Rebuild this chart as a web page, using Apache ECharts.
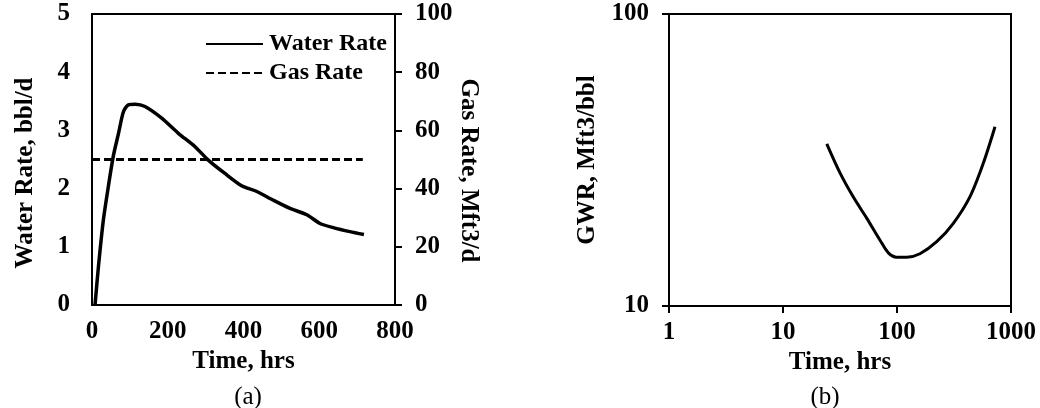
<!DOCTYPE html>
<html>
<head>
<meta charset="utf-8">
<script src="https://cdn.jsdelivr.net/npm/echarts@6/dist/echarts.min.js"></script>
<style>
  html, body { margin: 0; padding: 0; background: #fff; }
  #chart { width: 1040px; height: 408px; }
</style>
</head>
<body>
<div id="chart"></div>
<script>
// Panel (a): water rate (left axis) and gas rate (right axis) against time
const waterTime = [8, 17, 30, 43, 56, 70, 83, 96, 114, 140, 184, 228, 272, 307, 351, 395, 435, 479, 523, 567, 602, 637, 681, 718];
const waterRate = [0, 0.66, 1.46, 2.03, 2.55, 2.95, 3.32, 3.44, 3.45, 3.41, 3.21, 2.95, 2.72, 2.49, 2.26, 2.05, 1.95, 1.80, 1.66, 1.55, 1.40, 1.33, 1.26, 1.21];
const gasTime = [0, 715];
const gasRate = [50, 50];

// Panel (b): gas-water ratio against time, log-log
const gwrTime = [24.2, 31.7, 41.4, 54.2, 71, 84, 99, 122, 159, 223, 312, 437, 571, 724];
const gwrValue = [35.9, 28.5, 23.6, 20.0, 16.8, 15.2, 14.7, 14.7, 15.1, 16.6, 19.2, 23.7, 30.8, 41.1];

const FONT = '"Liberation Serif", "Times New Roman", serif';
const FS = 25;
const boldText = { fontFamily: FONT, fontSize: FS, fontWeight: 'bold', color: '#000' };
const axisLine = { show: true, lineStyle: { color: '#000', width: 2 } };
const outTick = { show: true, inside: false, length: 7, lineStyle: { color: '#000', width: 2 } };
const plain = (v) => String(v);

const pairs = (xs, ys) => xs.map((x, i) => [x, ys[i]]);

const chart = echarts.init(document.getElementById('chart'), null, { renderer: 'canvas' });

chart.setOption({
  animation: false,
  backgroundColor: '#fff',
  title: [
    { text: '(a)', left: 243, top: 380, textAlign: 'center',
      textStyle: { fontFamily: FONT, fontSize: FS, fontWeight: 'normal', color: '#000' } },
    { text: '(b)', left: 820, top: 380, textAlign: 'center',
      textStyle: { fontFamily: FONT, fontSize: FS, fontWeight: 'normal', color: '#000' } }
  ],
  legend: {
    orient: 'vertical',
    left: 205,
    top: 32,
    padding: 0,
    itemWidth: 57,
    itemHeight: 10,
    itemGap: 5,
    itemStyle: { opacity: 0 },
    textStyle: Object.assign({}, boldText, { fontSize: 24, padding: [0, 0, 0, 1] }),
    data: ['Water Rate', 'Gas Rate']
  },
  grid: [
    { left: 92, top: 14, width: 303, height: 291, show: true, borderColor: '#000', borderWidth: 2, backgroundColor: 'transparent' },
    { left: 669, top: 14, width: 342, height: 292, show: true, borderColor: '#000', borderWidth: 2, backgroundColor: 'transparent' }
  ],
  xAxis: [
    {
      gridIndex: 0, type: 'value', min: 0, max: 800, interval: 200,
      name: 'Time, hrs', nameLocation: 'middle', nameGap: 40, nameTextStyle: boldText,
      axisLine: axisLine, axisTick: { show: false },
      axisLabel: Object.assign({ margin: 14, formatter: plain }, boldText),
      splitLine: { show: false }
    },
    {
      gridIndex: 1, type: 'log', logBase: 10, min: 1, max: 1000, interval: 1,
      name: 'Time, hrs', nameLocation: 'middle', nameGap: 40, nameTextStyle: boldText,
      axisLine: axisLine, axisTick: outTick,
      axisLabel: Object.assign({ margin: 14, formatter: plain }, boldText),
      minorTick: { show: false },
      splitLine: { show: false }
    }
  ],
  yAxis: [
    {
      gridIndex: 0, type: 'value', min: 0, max: 5, interval: 1, position: 'left',
      name: 'Water Rate, bbl/d', nameLocation: 'middle', nameGap: 54,
      nameTextStyle: Object.assign({}, boldText, { padding: [0, 27, 0, 0] }),
      axisLine: axisLine, axisTick: { show: false },
      axisLabel: Object.assign({ margin: 22, formatter: plain }, boldText),
      splitLine: { show: false }
    },
    {
      gridIndex: 0, type: 'value', min: 0, max: 100, interval: 20, position: 'right',
      name: 'Gas Rate, Mft3/d', nameLocation: 'middle', nameGap: 60, nameRotate: -90,
      nameTextStyle: Object.assign({}, boldText, { padding: [0, 0, 0, 22] }),
      axisLine: axisLine, axisTick: outTick,
      axisLabel: Object.assign({ margin: 20, formatter: plain }, boldText),
      splitLine: { show: false }
    },
    {
      gridIndex: 1, type: 'log', logBase: 10, min: 10, max: 100, interval: 1, position: 'left',
      name: 'GWR, Mft3/bbl', nameLocation: 'middle', nameGap: 69, nameTextStyle: boldText,
      axisLine: axisLine, axisTick: outTick,
      axisLabel: Object.assign({ margin: 20, formatter: plain }, boldText),
      minorTick: { show: false },
      splitLine: { show: false }
    }
  ],
  series: [
    {
      name: 'Water Rate', type: 'line', xAxisIndex: 0, yAxisIndex: 0,
      data: pairs(waterTime, waterRate), smooth: 0.25, symbol: 'none',
      lineStyle: { color: '#000', width: 3.5, type: 'solid' },
      itemStyle: { color: '#000' }
    },
    {
      name: 'Gas Rate', type: 'line', xAxisIndex: 0, yAxisIndex: 1,
      data: pairs(gasTime, gasRate), symbol: 'none',
      lineStyle: { color: '#000', width: 3, type: [8, 4] },
      itemStyle: { color: '#000' }
    },
    {
      name: 'GWR', type: 'line', xAxisIndex: 1, yAxisIndex: 2,
      data: pairs(gwrTime, gwrValue), smooth: 0.3, symbol: 'none',
      lineStyle: { color: '#000', width: 3 },
      itemStyle: { color: '#000' }
    }
  ]
});
</script>
</body>
</html>
